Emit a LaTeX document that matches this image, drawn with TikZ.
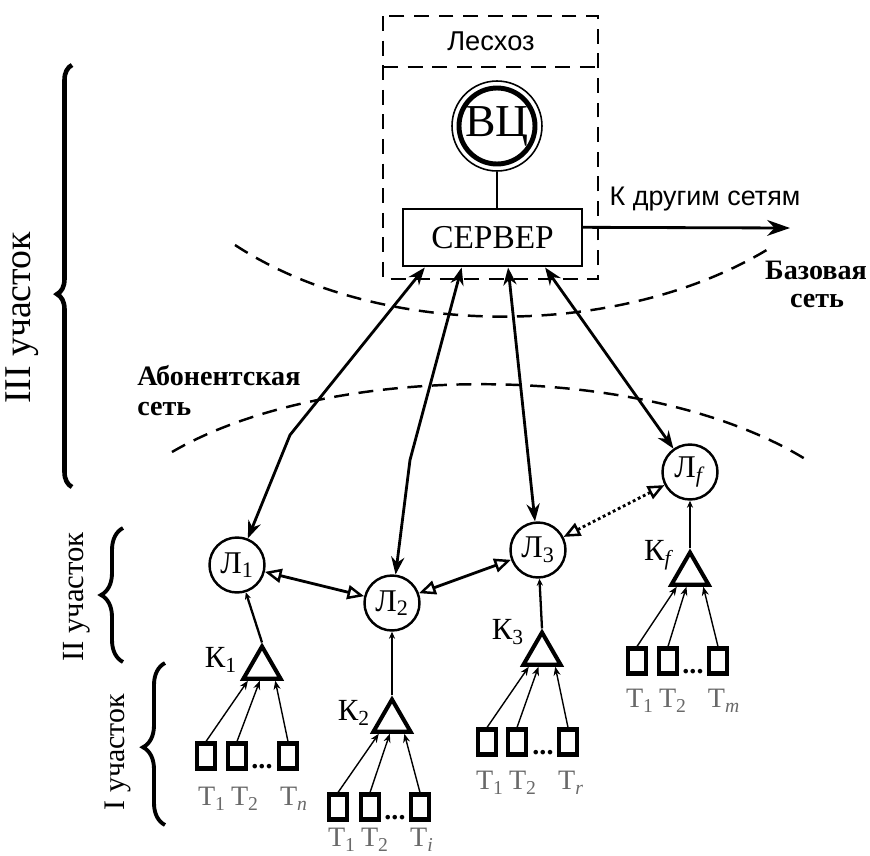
\documentclass[tikz,border=0pt]{standalone}
\usepackage{fontspec}
\setmainfont{Liberation Serif}
\newfontfamily\sansf{Liberation Sans}
\usetikzlibrary{arrows.meta,shapes.geometric,calc,decorations.pathreplacing}
\definecolor{tgray}{RGB}{105,105,105}
\newcommand{\fs}[1]{\fontsize{#1}{#1}\selectfont}
\begin{document}
\begin{tikzpicture}[x=0.02cm,y=-0.02cm,
  lnode/.style={circle,draw,line width=1.4pt,minimum size=1.1cm,inner sep=0pt,font=\fs{18}},
  conc/.style={regular polygon,regular polygon sides=3,draw,line width=2.3pt,minimum size=0.86cm,inner sep=0pt},
  term/.style={rectangle,draw,line width=2.3pt,minimum width=0.37cm,minimum height=0.5cm,inner sep=0pt},
  tlab/.style={text=tgray,font=\fs{16},inner sep=0pt},
  klab/.style={font=\fs{17.5},inner sep=0pt},
  dots/.style={font=\bfseries\fs{16},inner sep=0pt,anchor=base},
  srvlink/.style={line width=1.6pt,{Stealth[length=10pt,width=7.5pt]}-{Stealth[length=10pt,width=7.5pt]}},
  llink/.style={line width=1.6pt,{Triangle[open,length=9.5pt,width=8pt,line width=1.4pt]}-{Triangle[open,length=9.5pt,width=8pt,line width=1.4pt]}},
  klink/.style={line width=1.3pt,-{Stealth[length=4pt,width=3.5pt]}},
  tlink/.style={line width=0.8pt,-{Stealth[length=5pt,width=4pt]}},
  dashb/.style={dash pattern=on 8.5pt off 5.5pt,line width=1.4pt},
  brc/.style={decorate,line width=2.6pt},
  blab/.style={font=\bfseries\fs{16},inner sep=0pt}
]
\useasboundingbox (0,0) rectangle (870,856);

% Leskhoz box
\draw[dashb] (383,16) rectangle (598,279);
\draw[dashb] (383,67) -- (598,67);
\node[font=\sansf\fs{15.5}] (lesh) at (491,41) {Лесхоз};

% VC and server
\node[circle,draw,line width=2.8pt,minimum size=1.52cm,inner sep=0pt,font=\fs{26}] (vc) at (497,126) {ВЦ};
\node[circle,draw,line width=0.9pt,minimum size=1.8cm,inner sep=0pt] (vco) at (497,126) {};
\node[draw,line width=1.4pt,minimum width=3.58cm,minimum height=1.15cm,inner sep=0pt,font=\fs{19}] (srv) at (492.5,237.5) {СЕРВЕР};
\draw[line width=1.3pt] (vco.south) -- (vco.south |- srv.north);

% to other networks
\coordinate (ext) at (790,228);
\draw[line width=1.6pt,-{Stealth[length=13pt,width=9pt]}] ($(srv.north east)!0.33!(srv.south east)$) -- (ext);
\node[font=\sansf\fs{15.3}] (other) at (705,199) {К другим сетям};

% network boundaries
\draw[dashb] (235,245) .. controls (380,340) and (620,340) .. (770,248);
\draw[dashb] (172,452) .. controls (330,360) and (650,360) .. (810,462);
\node[blab] (baz1) at (816,270) {Базовая};
\node[blab] (baz2) at (817,301) {сеть};
\node[blab,anchor=west] (ab1) at (137,376) {Абонентская};
\node[blab,anchor=west] (ab2) at (137,409) {сеть};

% L nodes
\node[lnode] (L1) at (237,565) {Л\textsubscript{1}};
\node[lnode] (L2) at (392,603) {Л\textsubscript{2}};
\node[lnode] (L3) at (538,550) {Л\textsubscript{3}};
\node[lnode] (Lf) at (690,472) {Л\textsubscript{\textit{f}}};

% server links
\coordinate (s1) at ($(srv.south west)!0.127!(srv.south east)$);
\coordinate (s2) at ($(srv.south west)!0.33!(srv.south east)$);
\coordinate (s3) at ($(srv.south west)!0.586!(srv.south east)$);
\coordinate (s4) at ($(srv.south west)!0.79!(srv.south east)$);
\coordinate (b1) at (290,435);
\coordinate (b2) at (410,460);
\draw[srvlink] (s1) -- (b1) -- (L1);
\draw[srvlink] (s2) -- (b2) -- (L2);
\draw[srvlink] (s3) -- (L3);
\draw[srvlink] (s4) -- (Lf);

% L-L links
\draw[llink] (L1) -- (L2);
\draw[llink] (L2) -- (L3);
\draw[llink,dash pattern=on 1.6pt off 1.6pt] (L3) -- (Lf);

% concentrators
\node[conc] (K1) at (262,668) {};
\node[conc] (K2) at (392,721) {};
\node[conc] (K3) at (542,654) {};
\node[conc] (Kf) at (690,574) {};
\node[klab] (k1l) at (221,660) {К\textsubscript{1}};
\node[klab] (k2l) at (354,713) {К\textsubscript{2}};
\node[klab] (k3l) at (508,632) {К\textsubscript{3}};
\node[klab] (kfl) at (659,555) {К\textsubscript{\textit{f}}};
\draw[klink] (K1.corner 1) -- (L1);
\draw[klink] (K2.corner 1) -- (L2);
\draw[klink] (K3.corner 1) -- (L3);
\draw[klink] (Kf.corner 1) -- (Lf);

% terminals group 1
\node[term] (a1) at (206,756) {};
\node[term] (a2) at (237,756) {};
\node[term] (a3) at (288,756) {};
\node[dots] (ad) at (262,768) {...};
\node[tlab] (a1l) at (212,799) {Т\textsubscript{1}};
\node[tlab] (a2l) at (245,799) {Т\textsubscript{2}};
\node[tlab] (a3l) at (294,799) {Т\textsubscript{\textit{n}}};
\draw[tlink] (a1.north) -- ($(K1.corner 2)!0.18!(K1.corner 3)$);
\draw[tlink] (a2.north) -- ($(K1.corner 2)!0.45!(K1.corner 3)$);
\draw[tlink] (a3.north) -- ($(K1.corner 2)!0.8!(K1.corner 3)$);

% terminals group 2
\node[term] (b1t) at (338,807) {};
\node[term] (b2t) at (370,807) {};
\node[term] (b3t) at (420,807) {};
\node[dots] (bd) at (395,819) {...};
\node[tlab] (b1l) at (342,840) {Т\textsubscript{1}};
\node[tlab] (b2l) at (375,840) {Т\textsubscript{2}};
\node[tlab] (b3l) at (422,840) {Т\textsubscript{\textit{i}}};
\draw[tlink] (b1t.north) -- ($(K2.corner 2)!0.2!(K2.corner 3)$);
\draw[tlink] (b2t.north) -- ($(K2.corner 2)!0.45!(K2.corner 3)$);
\draw[tlink] (b3t.north) -- ($(K2.corner 2)!0.78!(K2.corner 3)$);

% terminals group 3
\node[term] (c1) at (487,742) {};
\node[term] (c2) at (517,742) {};
\node[term] (c3) at (568,742) {};
\node[dots] (cd) at (543,754) {...};
\node[tlab] (c1l) at (490,783) {Т\textsubscript{1}};
\node[tlab] (c2l) at (523,783) {Т\textsubscript{2}};
\node[tlab] (c3l) at (571,783) {Т\textsubscript{\textit{r}}};
\draw[tlink] (c1.north) -- ($(K3.corner 2)!0.2!(K3.corner 3)$);
\draw[tlink] (c2.north) -- ($(K3.corner 2)!0.42!(K3.corner 3)$);
\draw[tlink] (c3.north) -- ($(K3.corner 2)!0.8!(K3.corner 3)$);

% terminals group f
\node[term] (d1) at (637,661) {};
\node[term] (d2) at (668,661) {};
\node[term] (d3) at (718,661) {};
\node[dots] (dd) at (693,673) {...};
\node[tlab] (d1l) at (640,701) {Т\textsubscript{1}};
\node[tlab] (d2l) at (673,701) {Т\textsubscript{2}};
\node[tlab] (d3l) at (724,701) {Т\textsubscript{\textit{m}}};
\draw[tlink] (d1.north) -- ($(Kf.corner 2)!0.2!(Kf.corner 3)$);
\draw[tlink] (d2.north) -- ($(Kf.corner 2)!0.42!(Kf.corner 3)$);
\draw[tlink] (d3.north) -- ($(Kf.corner 2)!0.8!(Kf.corner 3)$);

% braces
\draw[brc,decoration={brace,amplitude=0.3cm,aspect=0.457}] (72,487) -- (72,65);
\draw[brc,line width=2.2pt,decoration={brace,amplitude=0.44cm,aspect=0.5}] (123,662) -- (123,528);
\draw[brc,line width=2.2pt,decoration={brace,amplitude=0.44cm,aspect=0.48}] (165,825) -- (165,663);
\node[rotate=90,font=\fs{21.5},inner sep=0pt] (p3) at (22,318) {III участок};
\node[rotate=90,font=\fs{17.5},inner sep=0pt] (p2) at (77,597) {II участок};
\node[rotate=90,font=\fs{17},inner sep=0pt] (p1) at (118,752) {I участок};
\end{tikzpicture}
\end{document}
